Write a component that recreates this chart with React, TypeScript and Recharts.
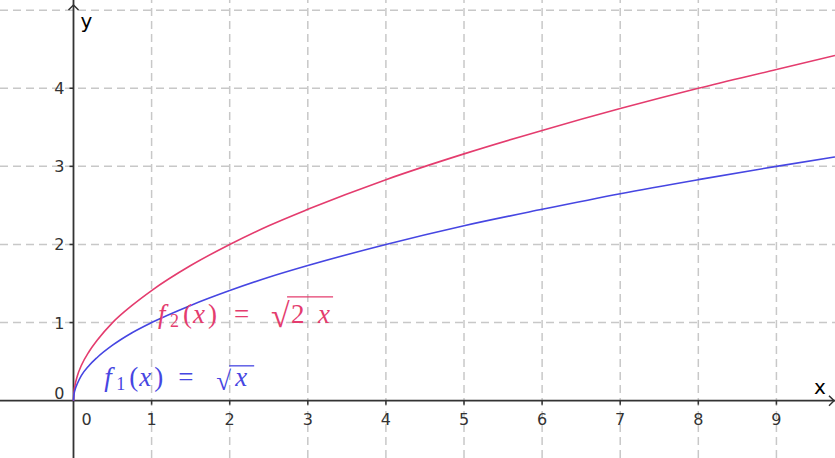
import { LineChart, Line, XAxis, YAxis, ReferenceLine, ReferenceDot } from 'recharts';

// values
const xValues = [0, 0.005, 0.02, 0.05, 0.1, 0.2, 0.3, 0.5, 0.75, 1, 1.5, 2, 2.5, 3, 4, 5, 6, 7, 8, 9, 9.75];
const f1Values = [0, 0.07, 0.14, 0.22, 0.32, 0.45, 0.55, 0.71, 0.87, 1, 1.22, 1.41, 1.58, 1.73, 2, 2.24, 2.45, 2.65, 2.83, 3, 3.12];
const f2Values = [0, 0.1, 0.2, 0.32, 0.45, 0.63, 0.77, 1, 1.22, 1.41, 1.73, 2, 2.24, 2.45, 2.83, 3.16, 3.46, 3.74, 4, 4.24, 4.42];

const xTicks = [0, 1, 2, 3, 4, 5, 6, 7, 8, 9];
const yTicks = [0, 1, 2, 3, 4];
const xGrid = [1, 2, 3, 4, 5, 6, 7, 8, 9];
const yGrid = [1, 2, 3, 4, 5];

const X_DOMAIN: [number, number] = [-0.941, 9.75];
const Y_DOMAIN: [number, number] = [-0.734, 5.13];

const data = xValues.map((x, i) => ({ x, f1: f1Values[i], f2: f2Values[i] }));

const AXIS = '#333333';
const GRID = '#c8c8c8';
const RED = '#e43c6e';
const BLUE = '#4646e2';
const SANS = '"DejaVu Sans", sans-serif';
const SERIF = '"Liberation Serif", serif';

function XTick({ cx, cy, value }: any) {
  if (value === 0) {
    return (
      <text x={cx + 13} y={cy + 24} textAnchor="middle" fontFamily={SANS} fontSize={16} fill={AXIS}>
        0
      </text>
    );
  }
  return (
    <g>
      <line x1={cx} y1={cy} x2={cx} y2={cy + 4} stroke={AXIS} strokeWidth={1.5} />
      <text x={cx} y={cy + 24} textAnchor="middle" fontFamily={SANS} fontSize={16} fill={AXIS}>
        {value}
      </text>
    </g>
  );
}

function YTick({ cx, cy, value }: any) {
  if (value === 0) {
    return (
      <text x={cx - 9} y={cy - 2} textAnchor="end" fontFamily={SANS} fontSize={16} fill={AXIS}>
        0
      </text>
    );
  }
  return (
    <g>
      <line x1={cx - 4} y1={cy} x2={cx} y2={cy} stroke={AXIS} strokeWidth={1.5} />
      <text x={cx - 9} y={cy + 6} textAnchor="end" fontFamily={SANS} fontSize={16} fill={AXIS}>
        {value}
      </text>
    </g>
  );
}

function XArrow({ cx, cy }: any) {
  return (
    <g>
      <polyline points={`${cx - 6},${cy - 5} ${cx - 1},${cy} ${cx - 6},${cy + 5}`} fill="none" stroke={AXIS} strokeWidth={1.5} />
      <text x={cx - 15} y={cy - 7} textAnchor="middle" fontFamily={SANS} fontSize={20} fill="#000">
        x
      </text>
    </g>
  );
}

function YArrow({ cx, cy }: any) {
  return (
    <g>
      <polyline points={`${cx - 5},${cy + 10} ${cx},${cy + 5} ${cx + 5},${cy + 10}`} fill="none" stroke={AXIS} strokeWidth={1.5} />
      <text x={cx + 13} y={cy + 28} textAnchor="middle" fontFamily={SANS} fontSize={20} fill="#000">
        y
      </text>
    </g>
  );
}

function F2Label({ cx, cy }: any) {
  const t = { fontFamily: SERIF, fontSize: 27, fill: RED };
  return (
    <g>
      <text x={cx + 1} y={cy} {...t} fontStyle="italic">f</text>
      <text x={cx + 13} y={cy + 4} {...t} fontSize={18}>2</text>
      <text x={cx + 26} y={cy} {...t}>(</text>
      <text x={cx + 36} y={cy} {...t} fontStyle="italic">x</text>
      <text x={cx + 51} y={cy} {...t}>)</text>
      <text x={cx + 77} y={cy} {...t}>=</text>
      <text x={cx + 114} y={cy + 4} {...t} fontSize={34}>√</text>
      <line x1={cx + 130} y1={cy - 26.5} x2={cx + 176} y2={cy - 26.5} stroke={RED} strokeWidth={1.3} />
      <text x={cx + 134} y={cy} {...t}>2</text>
      <text x={cx + 161} y={cy} {...t} fontStyle="italic">x</text>
    </g>
  );
}

function F1Label({ cx, cy }: any) {
  const t = { fontFamily: SERIF, fontSize: 27, fill: BLUE };
  return (
    <g>
      <text x={cx + 1} y={cy} {...t} fontStyle="italic">f</text>
      <text x={cx + 13} y={cy + 4} {...t} fontSize={18}>1</text>
      <text x={cx + 26} y={cy} {...t}>(</text>
      <text x={cx + 36} y={cy} {...t} fontStyle="italic">x</text>
      <text x={cx + 51} y={cy} {...t}>)</text>
      <text x={cx + 75} y={cy} {...t}>=</text>
      <text x={cx + 113} y={cy + 4} {...t} fontSize={27}>√</text>
      <line x1={cx + 126} y1={cy - 20} x2={cx + 151} y2={cy - 20} stroke={BLUE} strokeWidth={1.3} />
      <text x={cx + 132} y={cy} {...t} fontStyle="italic">x</text>
    </g>
  );
}

export default function App() {
  return (
    <div style={{ position: 'absolute', left: 0, top: 0, width: 835, height: 458, background: '#fff' }}>
      <LineChart width={835} height={458} data={data} margin={{ top: 0, right: 0, bottom: 0, left: 0 }}>
        <XAxis type="number" dataKey="x" domain={X_DOMAIN} allowDataOverflow hide />
        <YAxis type="number" domain={Y_DOMAIN} allowDataOverflow hide />

        {xGrid.map((v) => (
          <ReferenceLine key={`gx${v}`} x={v} stroke={GRID} strokeWidth={1.5} strokeDasharray="8 5" />
        ))}
        {yGrid.map((v) => (
          <ReferenceLine key={`gy${v}`} y={v} stroke={GRID} strokeWidth={1.5} strokeDasharray="8 5" />
        ))}

        <ReferenceLine x={0} stroke={AXIS} strokeWidth={1.8} />
        <ReferenceLine y={0} stroke={AXIS} strokeWidth={1.8} />

        {xTicks.map((v) => (
          <ReferenceDot key={`tx${v}`} x={v} y={0} r={0} ifOverflow="visible" shape={(p: any) => <XTick {...p} value={v} />} />
        ))}
        {yTicks.map((v) => (
          <ReferenceDot key={`ty${v}`} x={0} y={v} r={0} ifOverflow="visible" shape={(p: any) => <YTick {...p} value={v} />} />
        ))}

        <ReferenceDot x={X_DOMAIN[1]} y={0} r={0} ifOverflow="visible" shape={(p: any) => <XArrow {...p} />} />
        <ReferenceDot x={0} y={Y_DOMAIN[1]} r={0} ifOverflow="visible" shape={(p: any) => <YArrow {...p} />} />

        <Line type="monotone" dataKey="f2" stroke={RED} strokeWidth={1.6} dot={false} activeDot={false} isAnimationActive={false} />
        <Line type="monotone" dataKey="f1" stroke={BLUE} strokeWidth={1.6} dot={false} activeDot={false} isAnimationActive={false} />

        <ReferenceDot x={1.07} y={0.99} r={0} ifOverflow="visible" shape={(p: any) => <F2Label {...p} />} />
        <ReferenceDot x={0.38} y={0.19} r={0} ifOverflow="visible" shape={(p: any) => <F1Label {...p} />} />
      </LineChart>
    </div>
  );
}
